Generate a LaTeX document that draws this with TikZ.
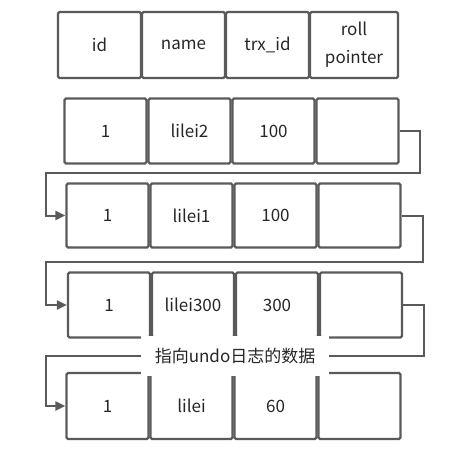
\documentclass[tikz,border=0pt]{standalone}
\usepackage{fontspec}
\setmainfont{Noto Sans CJK SC}
\usetikzlibrary{arrows.meta}
\definecolor{edgegray}{HTML}{5A5A5A}
\definecolor{inkgray}{HTML}{262626}

\begin{document}
\begin{tikzpicture}[x=1pt,y=-1pt,
  cellbox/.style={draw=edgegray,line width=2.2pt,rounded corners=1.5pt,minimum width=82pt,minimum height=65pt,inner sep=0pt,font=\fontsize{17}{28}\selectfont,text=inkgray,align=center},
  link/.style={draw=edgegray,line width=2pt,-{Triangle[length=10pt,width=9pt]}},
  note/.style={fill=white,font=\fontsize{17}{20}\selectfont,text=inkgray,minimum width=188pt,minimum height=40pt,inner sep=0pt}]
  \useasboundingbox (0,0) rectangle (453,460);
  % header
  \foreach \t [count=\i] in {id,name,trx\_id} { \node[cellbox,minimum width=83pt,minimum height=66pt] (h\i) at (15.5+84*\i,45) {\t}; }
  \node[cellbox,minimum width=88pt,minimum height=66pt] (h4) at (354,45) {roll\\pointer};
  % versions, newest first
  \foreach \t [count=\i] in {1,lilei2,100,{}} { \node[cellbox] (a\i) at (21.5+84*\i,131) {\t}; }
  \foreach \t [count=\i] in {1,lilei1,100,{}} { \node[cellbox,minimum height=64pt] (b\i) at (23.5+84*\i,215.5) {\t}; }
  \foreach \t [count=\i] in {1,lilei300,300,{}} { \node[cellbox] (c\i) at (25+84*\i,305) {\t}; }
  \foreach \t [count=\i] in {1,lilei,60,{}} { \node[cellbox,minimum height=66pt] (d\i) at (23.5+84*\i,406) {\t}; }
  % roll pointers
  \coordinate (ab) at (46,172.7);
  \coordinate (bc) at (46,262.3);
  \coordinate (cd) at (46,355.7);
  \draw[link] (a4.east) -- ++(20,0) |- (ab) |- (b1.west);
  \draw[link] (b4.east) -- ++(21,0) |- (bc) |- (c1.west);
  \draw[link] (c4.east) -- ++(21,0) |- node[note,pos=0.75] (lbl) {指向undo日志的数据} (cd) |- (d1.west);
\end{tikzpicture}
\end{document}
